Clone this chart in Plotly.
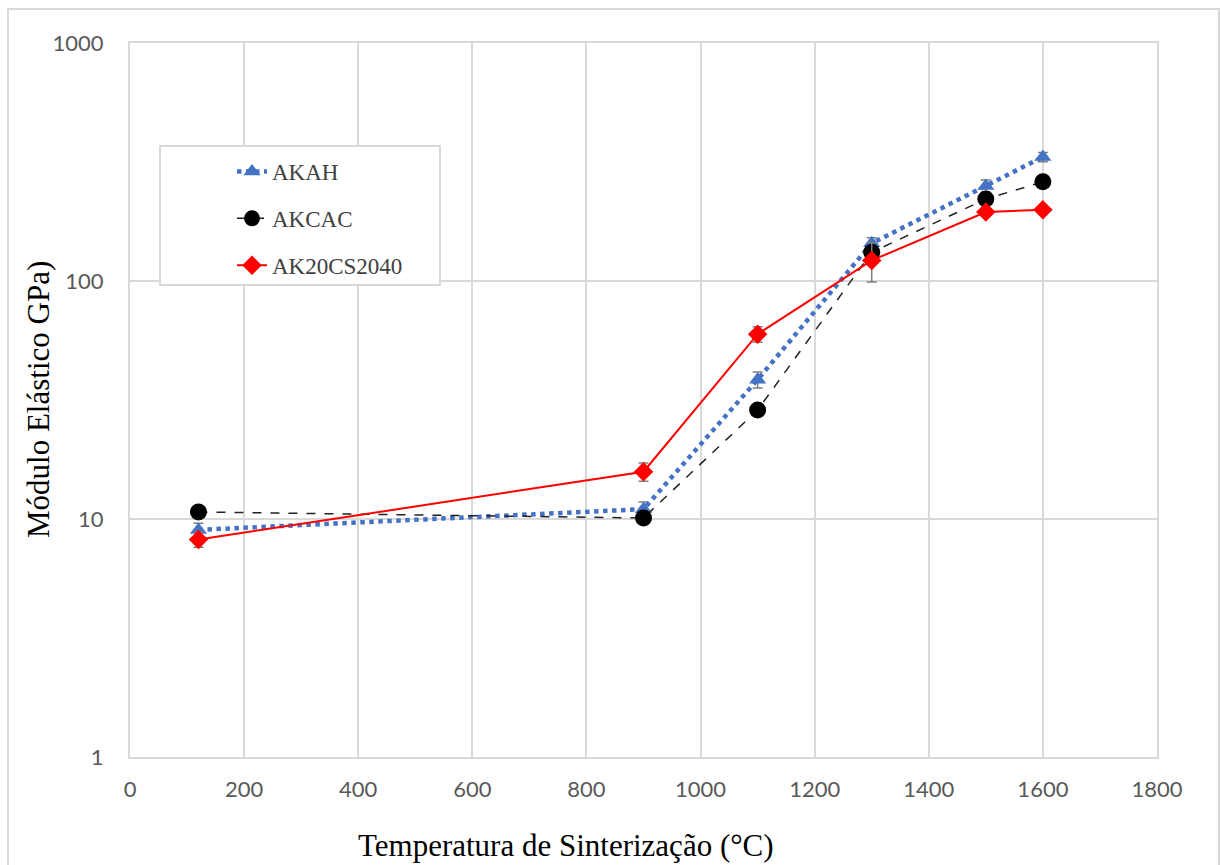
import plotly.graph_objects as go

temps = [120, 900, 1100, 1300, 1500, 1600]
akah = [9.0, 11.0, 38.5, 144, 251, 332]
akah_err = [0.6, 0.8, 3, 8, 15, 15]
akcac = [10.7, 10.1, 28.7, 132, 221, 261]
akcac_err = [0.2, 0.2, 0.5, 6, 8, 8]
ak20 = [8.2, 15.8, 59.8, 122, 195, 199]
ak20_err = [0.6, 1.4, 4.5, 23, 5, 5]

x_ticks = [0, 200, 400, 600, 800, 1000, 1200, 1400, 1600, 1800]
y_ticks = [1, 10, 100, 1000]
y_ticktext = ["1", "10", "100", "1000"]

err_style = dict(type="data", visible=True, color="#7f7f7f", thickness=1.5, width=5)

fig = go.Figure()
fig.add_trace(go.Scatter(
    x=temps, y=akah, name="AKAH", mode="lines+markers", legendgroup="a",
    line=dict(color="#4472c4", width=4.5, dash="dot"),
    marker=dict(symbol="triangle-up", size=15, color="#4472c4"),
    error_y=dict(array=akah_err, **err_style),
))
fig.add_trace(go.Scatter(
    x=temps, y=akcac, name="AKCAC", mode="lines+markers", legendgroup="b",
    line=dict(color="#222222", width=1.5, dash="dash"),
    marker=dict(symbol="circle", size=17, color="black"),
    error_y=dict(array=akcac_err, **err_style),
))
fig.add_trace(go.Scatter(
    x=temps, y=ak20, name="AK20CS2040", mode="lines+markers", legendgroup="c",
    line=dict(color="#ff0000", width=2),
    marker=dict(symbol="diamond", size=15, color="#ff0000"),
    error_y=dict(array=ak20_err, **err_style),
))

grid = "#d9d9d9"

def px_x(p):
    return (p - 130) / 1027

def px_y(p):
    return (757 - p) / 714

fig.update_layout(
    width=1220, height=865,
    margin=dict(l=130, r=63, t=43, b=108),
    paper_bgcolor="white", plot_bgcolor="white",
    showlegend=True,
    legend=dict(
        x=px_x(232), y=px_y(150), xanchor="left", yanchor="top",
        bgcolor="rgba(0,0,0,0)", borderwidth=0,
        font=dict(family="Liberation Serif", size=23, color="#404040"),
        tracegroupgap=14,
    ),
    xaxis=dict(
        range=[0, 1800], tickvals=x_ticks, showgrid=True, gridcolor=grid, gridwidth=2,
        showline=True, linecolor=grid, linewidth=2, mirror=True, zeroline=False,
        ticks="", tickfont=dict(family="Lato", size=22, color="#595959"),
        ticklabelstandoff=12,
    ),
    yaxis=dict(
        type="log", range=[0, 3], tickvals=y_ticks, ticktext=y_ticktext,
        showgrid=True, gridcolor=grid, gridwidth=2,
        showline=True, linecolor=grid, linewidth=2, mirror=True, zeroline=False,
        ticks="", tickfont=dict(family="Lato", size=22, color="#595959"),
        ticklabelstandoff=20,
    ),
    annotations=[
        dict(text="Temperatura de Sinterização (°C)", xref="paper", yref="paper",
             x=px_x(566), y=px_y(845), xanchor="center", yanchor="middle", showarrow=False,
             font=dict(family="Liberation Serif", size=31, color="black")),
        dict(text="Módulo Elástico GPa)", xref="paper", yref="paper",
             x=px_x(38), y=px_y(400), xanchor="center", yanchor="middle", showarrow=False,
             textangle=-90,
             font=dict(family="Liberation Serif", size=31, color="black")),
    ],
    shapes=[
        dict(type="rect", xref="paper", yref="paper", x0=px_x(8), x1=px_x(1219),
             y0=-0.2, y1=px_y(9), line=dict(color=grid, width=2), layer="below"),
        dict(type="rect", xref="paper", yref="paper", x0=px_x(160), x1=px_x(440),
             y0=px_y(285), y1=px_y(146), line=dict(color=grid, width=2),
             fillcolor="white", layer="above"),
    ],
)

fig.write_html("out.html")
